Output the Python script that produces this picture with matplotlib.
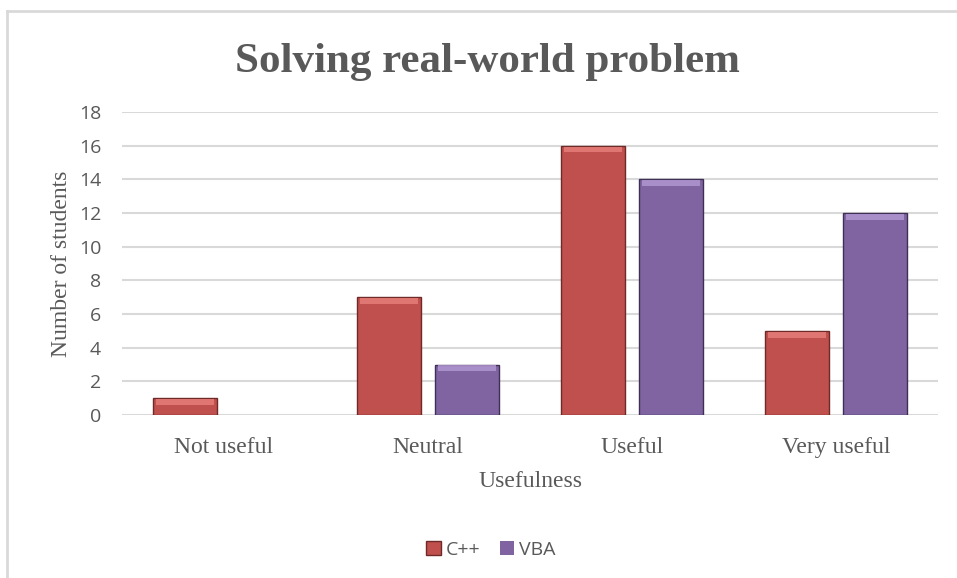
import numpy as np
import matplotlib.pyplot as plt
from matplotlib.lines import Line2D

categories = ['Not useful', 'Neutral', 'Useful', 'Very useful']
cpp = [1, 7, 16, 5]
vba = [0, 3, 14, 12]
yticks = [0, 2, 4, 6, 8, 10, 12, 14, 16, 18]

red = '#c0504d'
purple = '#8064a2'
grey = '#595959'
serif = 'Liberation Serif'
sans = 'Open Sans'

fig = plt.figure(figsize=(9.57, 5.78), dpi=100)
ax = fig.add_axes([122 / 957, 1 - 415 / 578, 816 / 957, 303 / 578])

# chart border (only left/top visible in the crop)
fig.add_artist(Line2D([7 / 957, 7 / 957], [0, 1 - 11 / 578], transform=fig.transFigure,
                      color='#d9d9d9', lw=2))
fig.add_artist(Line2D([7 / 957, 1], [1 - 11 / 578, 1 - 11 / 578], transform=fig.transFigure,
                      color='#d9d9d9', lw=2))

x = np.arange(len(categories))
w = 0.314
gap = 0.07
ax.bar(x - (w + gap) / 2, cpp, w, color=red, edgecolor='#6e2a28',
       linewidth=[1.0 if v else 0 for v in cpp], label='C++', zorder=3)
ax.bar(x + (w + gap) / 2, vba, w, color=purple, edgecolor='#3f2f55',
       linewidth=[1.0 if v else 0 for v in vba], label='VBA', zorder=3)

# lighter top bevel strip on each bar
for xs, vals, c in [(x - (w + gap) / 2, cpp, '#e8807c'), (x + (w + gap) / 2, vba, '#b49ad4')]:
    for xi, v in zip(xs, vals):
        if v > 0:
            ax.bar(xi, 0.35, w * 0.9, bottom=v - 0.4, color=c, linewidth=0, zorder=4, alpha=0.8)

ax.set_xlim(-0.5, len(categories) - 0.5)
ax.set_ylim(0, 18)
ax.set_yticks(yticks)
ax.yaxis.grid(True, color='#d9d9d9', lw=1.5, zorder=0)
ax.set_axisbelow(True)
for s in ax.spines.values():
    s.set_visible(False)
ax.tick_params(length=0)
ax.set_xticks(x)
ax.set_xticklabels(categories, family=serif, fontsize=17, color=grey)
ax.tick_params(axis='x', pad=16)
ax.tick_params(axis='y', pad=15)
for t in ax.get_yticklabels():
    t.set_family(sans)
    t.set_fontsize(14)
    t.set_color(grey)

ax.set_xlabel('Usefulness', family=serif, fontsize=17, color=grey, labelpad=9)
ax.set_ylabel('Number of students', family=serif, fontsize=17, color=grey, labelpad=5)

fig.text(487 / 957, 1 - 62 / 578, 'Solving real-world problem', family=serif,
         fontsize=31, fontweight='bold', color=grey, ha='center', va='center')

leg = fig.legend(loc='center', bbox_to_anchor=(491 / 957, 1 - 550 / 578), ncol=2,
                 frameon=False, prop={'family': sans, 'size': 14},
                 handlelength=0.75, handleheight=0.75, handletextpad=0.25, columnspacing=1.0)
for t in leg.get_texts():
    t.set_color(grey)

fig.savefig('out.png', dpi=100)
